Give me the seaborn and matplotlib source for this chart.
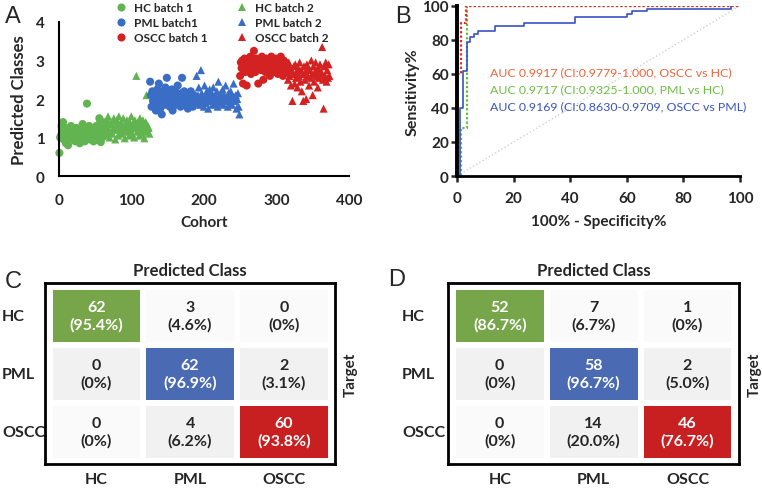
import numpy as np
import pandas as pd
import seaborn as sns
import matplotlib.pyplot as plt
from matplotlib.colors import ListedColormap

# ---- panel A: predicted class per sample, in cohort order ----
hc_batch1 = [0.6, 1.0, 1.05, 1.3, 1.2, 1.4, 0.95, 1.1, 1.25, 0.85, 1.15, 1.0, 0.8, 1.2, 1.05,
             1.1, 1.3, 0.95, 1.15, 1.2, 1.0, 1.1, 0.9, 1.25, 1.05, 1.15, 1.0, 1.2, 0.85, 1.1,
             0.9, 1.05, 1.35, 1.0, 1.15, 0.9, 1.2, 1.25, 1.88, 1.1, 1.0, 1.3, 0.95, 1.15, 1.05,
             1.2, 1.1, 0.9, 1.25, 1.0, 1.15, 1.3, 0.95, 1.1, 1.05, 1.5, 1.45, 0.88, 1.2, 1.0,
             1.1, 1.35, 1.25, 1.05, 1.4]
hc_batch2 = [1.3, 1.45, 1.55, 1.2, 1.0, 1.35, 1.15, 1.4, 1.1, 1.25, 1.5, 1.3, 0.95, 1.2, 1.45,
             1.35, 1.05, 1.55, 1.25, 1.15, 1.4, 1.3, 1.1, 1.5, 1.2, 0.98, 1.35, 1.25, 1.45, 1.15,
             1.3, 1.05, 1.4, 1.2, 1.55, 1.1, 1.35, 1.25, 1.0, 1.45, 1.3, 2.6, 1.15, 1.4, 1.2,
             1.05, 1.5, 1.35, 1.25, 1.1, 1.45, 1.3, 0.98, 1.2, 1.4, 2.1, 1.15, 1.3, 1.25, 1.1]
pml_batch1 = [2.45, 2.1, 1.8, 2.2, 1.95, 2.05, 2.15, 1.85, 1.7, 2.0, 2.25, 1.9, 2.4, 2.1, 1.75,
              2.0, 1.6, 2.2, 1.95, 2.05, 1.85, 2.3, 2.1, 2.55, 1.9, 2.0, 2.15, 1.8, 2.05, 1.95,
              2.25, 1.7, 2.1, 2.0, 1.9, 2.2, 1.85, 2.05, 2.35, 1.95, 2.1, 2.0, 1.8, 2.15, 2.55,
              1.9, 2.05, 2.2, 1.95, 1.85, 2.1, 2.0, 1.75, 2.15, 1.9, 2.05, 2.2, 1.95, 2.0, 1.8,
              2.1, 1.9, 2.05, 2.0]
pml_batch2 = [2.6, 1.9, 2.1, 2.3, 2.0, 1.85, 2.75, 2.15, 1.95, 2.05, 1.8, 2.35, 2.0, 1.9, 2.2,
              2.1, 1.75, 2.05, 2.25, 1.95, 2.0, 2.15, 1.85, 2.3, 2.05, 1.9, 2.1, 2.0, 2.2, 1.8,
              2.45, 1.95, 2.05, 2.15, 1.9, 2.0, 2.25, 1.85, 2.1, 2.0, 2.35, 1.95, 2.05, 1.8, 2.15,
              2.0, 1.9, 2.2, 2.1, 1.85, 2.0, 2.4, 2.05, 1.95, 2.1, 1.75, 2.0, 2.15, 1.8, 1.6]
oscc_batch1 = [2.6, 2.95, 2.8, 3.0, 2.4, 2.85, 3.05, 2.7, 2.9, 2.35, 3.0, 2.75, 2.95, 2.85, 3.1,
               2.65, 2.9, 3.0, 2.8, 3.25, 2.95, 2.7, 3.05, 2.85, 2.9, 2.4, 3.0, 2.8, 2.95, 2.75,
               3.1, 2.85, 2.5, 3.0, 2.9, 2.7, 3.05, 2.8, 2.95, 2.85, 3.0, 2.6, 2.9, 3.1, 2.75,
               2.95, 2.85, 3.0, 2.7, 3.05, 2.9, 2.8, 2.65, 3.0, 2.95, 2.85, 3.1, 2.75, 2.9, 2.6,
               3.0, 2.8, 2.95, 2.7]
oscc_batch2 = [2.9, 2.7, 2.5, 2.95, 2.6, 2.8, 2.35, 2.75, 1.95, 2.65, 2.85, 2.4, 2.9, 2.55, 2.7,
               2.3, 2.8, 2.6, 2.95, 2.45, 2.75, 2.2, 2.65, 1.95, 2.85, 2.5, 2.7, 2.0, 2.9, 2.6,
               2.8, 2.35, 2.75, 2.55, 3.0, 2.65, 2.1, 2.85, 2.45, 2.7, 2.95, 2.6, 2.75, 2.3, 2.8,
               2.55, 2.9, 2.65, 2.7, 3.35, 2.5, 1.75, 2.85, 2.6, 2.95, 2.45, 2.75, 2.55, 2.9, 2.6]

groups = ['HC batch 1', 'HC batch 2', 'PML batch1', 'PML batch 2', 'OSCC batch 1', 'OSCC batch 2']
group_values = [hc_batch1, hc_batch2, pml_batch1, pml_batch2, oscc_batch1, oscc_batch2]

# ---- panel B: ROC operating points (100-specificity, sensitivity) ----
roc_oscc_hc_fpr = [0, 0, 1.5, 3.2, 100]
roc_oscc_hc_tpr = [0, 60, 90, 100, 100]
roc_pml_hc_fpr = [0, 1.3, 3.4, 100]
roc_pml_hc_tpr = [0, 28, 100, 100]
roc_oscc_pml_fpr = [0, 1, 2, 3.3, 4.6, 5.8, 7.5, 13.4, 23.5, 41.7, 60, 61.8, 67, 97]
roc_oscc_pml_tpr = [0, 40, 62, 79, 81.5, 83.5, 85, 88.4, 90, 93.3, 95.3, 96.7, 98.2, 100]
auc_labels = ['AUC 0.9917 (CI:0.9779-1.000, OSCC vs HC)',
              'AUC 0.9717 (CI:0.9325-1.000, PML vs HC)',
              'AUC 0.9169 (CI:0.8630-0.9709, OSCC vs PML)']

# ---- panels C/D: confusion matrices ----
classes = ['HC', 'PML', 'OSCC']
counts_c = [[62, 3, 0], [0, 62, 2], [0, 4, 60]]
pct_c = [[95.4, 4.6, 0], [0, 96.9, 3.1], [0, 6.2, 93.8]]
counts_d = [[52, 7, 1], [0, 58, 2], [0, 14, 46]]
pct_d = [[86.7, 6.7, 0], [0, 96.7, 5.0], [0, 20.0, 76.7]]

green, blue, red = '#62b451', '#3a6ec6', '#d42222'

sns.set_style('white')
plt.rcParams['font.family'] = ['Lato', 'DejaVu Sans']

fig = plt.figure(figsize=(7.62, 4.89), dpi=100)

# ================= A =================
rows = []
n = 0
for g, vals in zip(groups, group_values):
    for v in vals:
        n += 1
        rows.append((n, v, g))
df = pd.DataFrame(rows, columns=['cohort', 'pred', 'group'])

axA = fig.add_axes([0.077, 0.638, 0.381, 0.315])
palette = dict(zip(groups, [green, green, blue, blue, red, red]))
markers = dict(zip(groups, ['o', '^', 'o', '^', 'o', '^']))
sns.scatterplot(data=df, x='cohort', y='pred', hue='group', style='group',
                palette=palette, markers=markers, s=34, linewidth=0, ax=axA,
                clip_on=False, legend=True)
axA.set_xlim(0, 400)
axA.set_ylim(0, 4)
axA.set_xticks([0, 100, 200, 300, 400])
axA.set_yticks([0, 1, 2, 3, 4])
for s in ['top', 'right']:
    axA.spines[s].set_visible(False)
for s in ['left', 'bottom']:
    axA.spines[s].set_color('black')
    axA.spines[s].set_linewidth(1.5)
axA.tick_params(direction='in', length=4, width=1.3, labelsize=11)
axA.tick_params(axis='x', pad=12)
axA.tick_params(axis='y', pad=10)
for t in axA.get_xticklabels() + axA.get_yticklabels():
    t.set_fontweight('bold')
axA.set_xlabel('Cohort', fontsize=11, fontweight='bold', labelpad=6)
axA.set_ylabel('Predicted Classes', fontsize=12, fontweight='bold', labelpad=6)
h, l = axA.get_legend_handles_labels()
order = [0, 2, 4, 1, 3, 5]
axA.legend([h[i] for i in order], [l[i] for i in order], ncol=2, loc='upper left',
           bbox_to_anchor=(0.155, 1.17), frameon=False, handletextpad=0.1,
           columnspacing=1.9, labelspacing=0.35, borderpad=0,
           prop={'weight': 'bold', 'size': 8.5}, markerscale=1.0)

# ================= B =================
axB = fig.add_axes([0.600, 0.638, 0.371, 0.348])
axB.plot([0, 100], [0, 100], color='#d0d0d0', ls=':', lw=1)
sns.lineplot(x=roc_pml_hc_fpr, y=roc_pml_hc_tpr, color='#5cbf3c', lw=1.6,
             ls=(0, (1, 1)), drawstyle='steps-post', sort=False, estimator=None, ax=axB)
sns.lineplot(x=roc_oscc_pml_fpr, y=roc_oscc_pml_tpr, color='#3852c4', lw=1.2,
             drawstyle='steps-post', sort=False, estimator=None, ax=axB)
sns.lineplot(x=roc_oscc_hc_fpr, y=roc_oscc_hc_tpr, color='#e8262a', lw=1.6,
             ls=(0, (1, 1)), drawstyle='steps-post', sort=False, estimator=None, ax=axB)
axB.set_xlim(0, 100)
axB.set_ylim(0, 100)
axB.set_xticks(range(0, 101, 20))
axB.set_yticks(range(0, 101, 20))
for s in ['top', 'right']:
    axB.spines[s].set_visible(False)
axB.spines['left'].set_color('black')
axB.spines['left'].set_linewidth(2.8)
axB.spines['bottom'].set_color('black')
axB.spines['bottom'].set_linewidth(2)
axB.tick_params(direction='out', length=4, width=1.8, labelsize=11,
                bottom=True, left=True)
axB.tick_params(axis='x', pad=7)
axB.tick_params(axis='y', pad=2)
for t in axB.get_xticklabels() + axB.get_yticklabels():
    t.set_fontweight('bold')
axB.set_xlabel('100% - Specificity%', fontsize=11, fontweight='bold', labelpad=6)
axB.set_ylabel('Sensitivity%', fontsize=11.5, fontweight='bold', labelpad=2)
for lab, yv, col in zip(auc_labels, [61, 51, 41], ['#f0643c', '#6cbd44', '#3a55c0']):
    axB.text(11.5, yv, lab, color=col, fontsize=8.9, va='center', ha='left')


# ================= C / D =================
def conf_panel(ax, counts, pcts, ypad):
    shade = np.zeros((3, 3))
    labels = []
    for i in range(3):
        row = []
        for j in range(3):
            if i == j:
                shade[i, j] = 2 + i
            elif (i + j) % 2 == 1 and i > 0:
                shade[i, j] = 1
            p = '0%' if pcts[i][j] == 0 else f'{pcts[i][j]:.1f}%'
            row.append(f'{counts[i][j]}\n({p})')
        labels.append(row)
    cmap = ListedColormap(['#fafafa', '#f1f1f1', '#77a54a', '#4a6ab4', '#c82020'])
    sns.heatmap(shade, cmap=cmap, vmin=-0.5, vmax=4.5, annot=np.array(labels), fmt='',
                cbar=False, linewidths=4, linecolor='white',
                annot_kws={'fontsize': 11.5, 'fontweight': 'bold', 'linespacing': 1.3},
                xticklabels=classes, yticklabels=classes, ax=ax)
    ax.set_xlim(-0.05, 3.05)
    ax.set_ylim(3.06, -0.06)
    for s in ax.spines.values():
        s.set_visible(True)
        s.set_color('black')
        s.set_linewidth(2)
    ax.tick_params(length=0, labelsize=11.5)
    ax.tick_params(axis='x', pad=6)
    ax.tick_params(axis='y', pad=ypad)
    for t in ax.get_xticklabels():
        t.set_fontweight('bold')
    for t in ax.get_yticklabels():
        t.set_fontweight('bold')
        t.set_rotation(0)
        t.set_ha('left')
    ax.set_title('Predicted Class', fontsize=12, fontweight='bold', pad=6)
    ax.yaxis.set_label_position('right')
    ax.set_ylabel('Target', fontsize=11, fontweight='bold', labelpad=6)
    ax.set_xlabel('')


axC = fig.add_axes([0.059, 0.049, 0.381, 0.370])
conf_panel(axC, counts_c, pct_c, 31)
axD = fig.add_axes([0.588, 0.049, 0.382, 0.370])
conf_panel(axD, counts_d, pct_d, 33)

# panel letters
for letter, x, y in [('A', 13, 17), ('B', 403, 17), ('C', 13, 282), ('D', 397, 280)]:
    fig.text(x / 762, 1 - y / 489, letter, fontsize=17, family='Liberation Sans',
             ha='center', va='center')

fig.savefig('out.png', dpi=100)
